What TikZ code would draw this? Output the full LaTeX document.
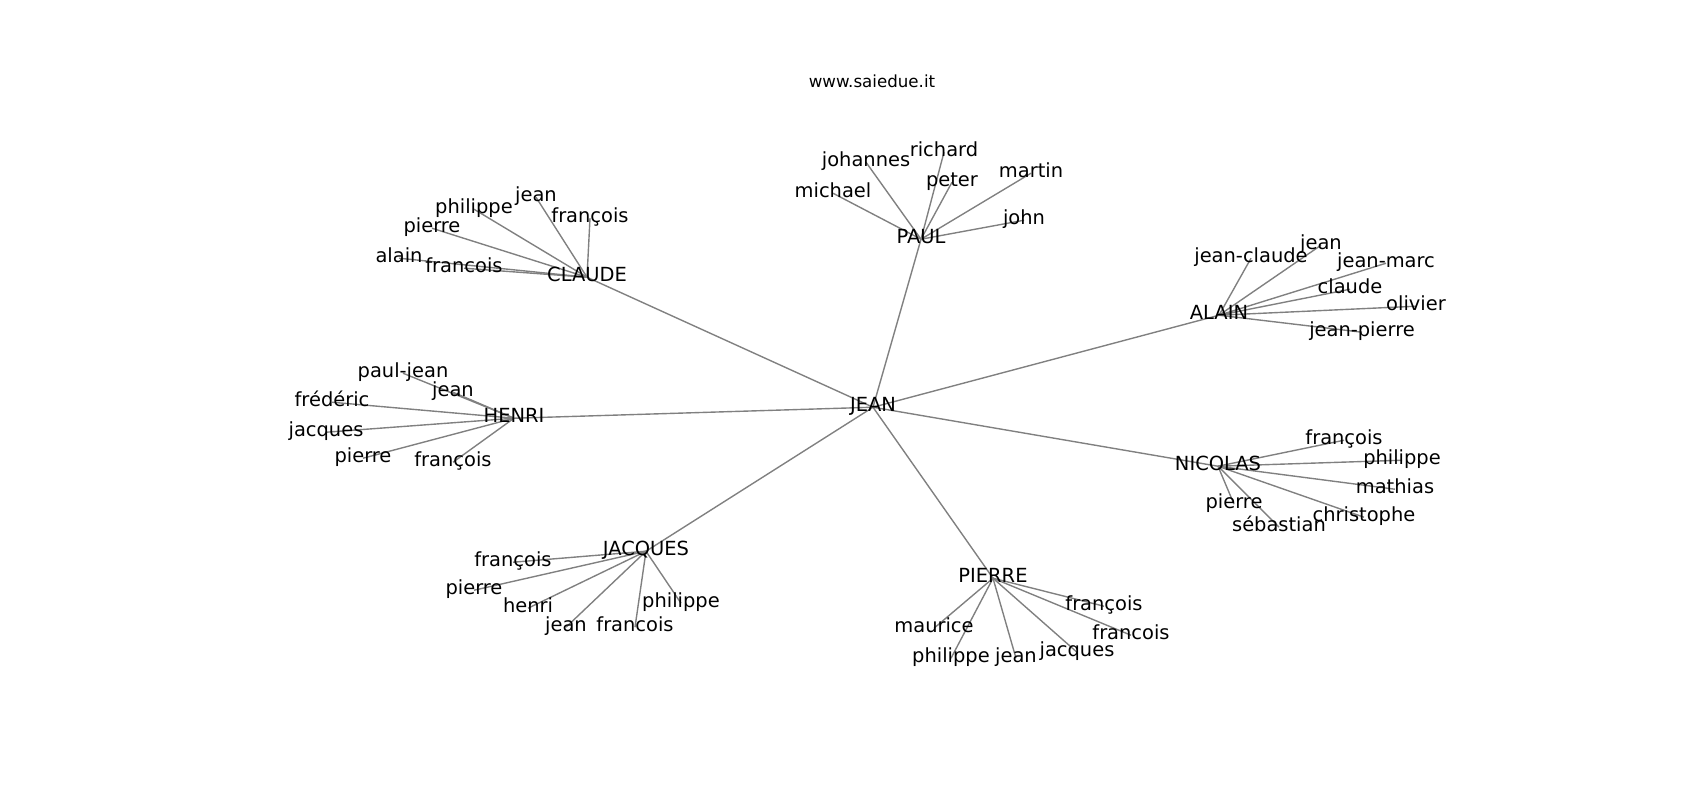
\documentclass[tikz,border=0pt]{standalone}
\usepackage{fontspec}
\setmainfont{DejaVu Sans}
\usetikzlibrary{backgrounds}
\tikzset{
  lbl/.style={font=\fontsize{14bp}{16bp}\selectfont, inner sep=0pt, text height=0.760em, text depth=0.208em, anchor=center, yshift=-1.6bp},
  edge/.style={draw=gray, line width=1bp},
  ttl/.style={font=\fontsize{12bp}{14bp}\selectfont, inner sep=0pt, anchor=base}
}
\begin{document}
\begin{tikzpicture}[x=0.72bp,y=-0.72bp]
\useasboundingbox (0,0) rectangle (1700,800);
\node[ttl] (title) at (872,87.3) {www.saiedue.it};
% center
\node[lbl] (jean0) at (873,405) {JEAN};
% PAUL
\node[lbl] (paul) at (921,237) {PAUL};
\node[lbl] (p1) at (833,191) {michael};
\node[lbl] (p2) at (866,160) {johannes};
\node[lbl] (p3) at (944,150) {richard};
\node[lbl] (p4) at (952,180) {peter};
\node[lbl] (p5) at (1031,171) {martin};
\node[lbl] (p6) at (1024,218) {john};
% CLAUDE
\node[lbl] (claude) at (587,275) {CLAUDE};
\node[lbl] (c1) at (536,195) {jean};
\node[lbl] (c2) at (590,216) {françois};
\node[lbl] (c3) at (474,207) {philippe};
\node[lbl] (c4) at (432,226) {pierre};
\node[lbl] (c5) at (399,256) {alain};
\node[lbl] (c6) at (464,266) {francois};
% ALAIN
\node[lbl] (alain) at (1219,313) {ALAIN};
\node[lbl] (a1) at (1251,256) {jean-claude};
\node[lbl] (a2) at (1321,243) {jean};
\node[lbl] (a3) at (1386,261) {jean-marc};
\node[lbl] (a4) at (1350,287) {claude};
\node[lbl] (a5) at (1416,304) {olivier};
\node[lbl] (a6) at (1362,330) {jean-pierre};
% HENRI
\node[lbl] (henri) at (514,416) {HENRI};
\node[lbl] (h1) at (403,371) {paul-jean};
\node[lbl] (h2) at (453,390) {jean};
\node[lbl] (h3) at (332,400) {frédéric};
\node[lbl] (h4) at (326,430) {jacques};
\node[lbl] (h5) at (363,456) {pierre};
\node[lbl] (h6) at (453,460) {françois};
% NICOLAS
\node[lbl] (nicolas) at (1218,464) {NICOLAS};
\node[lbl] (n1) at (1344,438) {françois};
\node[lbl] (n2) at (1402,458) {philippe};
\node[lbl] (n3) at (1395,487) {mathias};
\node[lbl] (n4) at (1364,515) {christophe};
\node[lbl] (n5) at (1234,502) {pierre};
\node[lbl] (n6) at (1279,525) {sébastian};
% JACQUES
\node[lbl] (jacques) at (646,549) {JACQUES};
\node[lbl] (j1) at (513,560) {françois};
\node[lbl] (j2) at (474,588) {pierre};
\node[lbl] (j3) at (528,606) {henri};
\node[lbl] (j4) at (566,625) {jean};
\node[lbl] (j5) at (635,625) {francois};
\node[lbl] (j6) at (681,601) {philippe};
% PIERRE
\node[lbl] (pierre) at (993,576) {PIERRE};
\node[lbl] (r1) at (1104,604) {françois};
\node[lbl] (r2) at (1131,633) {francois};
\node[lbl] (r3) at (934,626) {maurice};
\node[lbl] (r4) at (951,656) {philippe};
\node[lbl] (r5) at (1016,656) {jean};
\node[lbl] (r6) at (1077,650) {jacques};
\begin{scope}[on background layer]
\foreach \h in {paul,claude,alain,henri,nicolas,jacques,pierre}
  \draw[edge] (jean0.center) -- (\h.center);
\foreach \i in {1,...,6} {
  \draw[edge] (paul.center) -- (p\i.center);
  \draw[edge] (claude.center) -- (c\i.center);
  \draw[edge] (alain.center) -- (a\i.center);
  \draw[edge] (henri.center) -- (h\i.center);
  \draw[edge] (nicolas.center) -- (n\i.center);
  \draw[edge] (jacques.center) -- (j\i.center);
  \draw[edge] (pierre.center) -- (r\i.center);
}
\end{scope}
\end{tikzpicture}
\end{document}
